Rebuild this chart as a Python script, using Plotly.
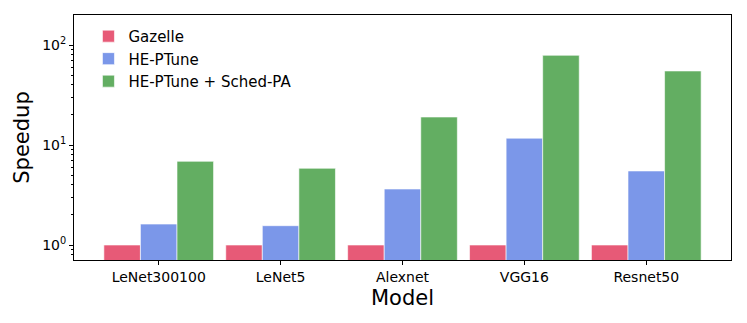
import plotly.graph_objects as go

# Данные
models = ["LeNet300100", "LeNet5", "Alexnet", "VGG16", "Resnet50"]
gazelle = [1.0, 1.0, 1.0, 1.0, 1.0]
he_ptune = [1.62, 1.56, 3.63, 11.7, 5.5]
he_ptune_sched = [6.87, 5.85, 19.05, 78.9, 55.0]

ytick_vals = [1, 10, 100]
ytick_text = ["10<sup>0</sup>", "10<sup>1</sup>", "10<sup>2</sup>"]
# малые деления логарифмической оси
yminor_vals = [m * d for d in (0.1, 1, 10, 100) for m in range(2, 10)]
y_range = [-0.15, 2.3]

series = [
    ("Gazelle", gazelle, "#E75A77"),
    ("HE-PTune", he_ptune, "#7B97E9"),
    ("HE-PTune + Sched-PA", he_ptune_sched, "#63AE62"),
]

fig = go.Figure()

for name, vals, color in series:
    fig.add_trace(go.Bar(
        x=list(range(len(models))),
        y=vals,
        name=name,
        marker=dict(color=color, line=dict(color="white", width=0.6)),
    ))

# невидимый след, чтобы вторая ось (малые деления) была отрисована
fig.add_trace(go.Scatter(
    x=list(range(len(models))), y=gazelle, yaxis="y2",
    mode="markers", marker=dict(opacity=0), showlegend=False, hoverinfo="skip",
))

font = "DejaVu Sans"

# страница имеет отступ 8px, поэтому фигура чуть меньше окна
fig.update_layout(
    width=739,
    height=315,
    barmode="group",
    bargap=0.1,
    bargroupgap=0,
    plot_bgcolor="white",
    paper_bgcolor="white",
    margin=dict(l=66, r=16, t=7, b=63),
    font=dict(family=font, color="black", size=14),
    legend=dict(
        x=0.022, y=0.98, xanchor="left", yanchor="top",
        bgcolor="rgba(0,0,0,0)", font=dict(size=15),
        tracegroupgap=0, itemwidth=30,
    ),
    yaxis2=dict(
        type="log", range=y_range, overlaying="y", anchor="x", side="left",
        tickvals=yminor_vals, ticktext=[""] * len(yminor_vals),
        ticks="outside", ticklen=2.5, tickwidth=0.8, tickcolor="black",
        showline=False, showgrid=False, zeroline=False, automargin=False,
    ),
)

fig.update_xaxes(
    automargin=False,
    tickvals=list(range(len(models))),
    ticktext=models,
    range=[-0.695, 4.695],
    showline=True, linecolor="black", linewidth=1, mirror=True,
    ticks="outside", ticklen=4, tickcolor="black",
    showgrid=False, zeroline=False,
    title=dict(text="Model", font=dict(size=21), standoff=6),
    tickfont=dict(size=14),
)

fig.update_layout(yaxis=dict(
    automargin=False,
    type="log",
    range=y_range,
    tickvals=ytick_vals,
    ticktext=ytick_text,
    showline=True, linecolor="black", linewidth=1, mirror=True,
    ticks="outside", ticklen=4, tickcolor="black",
    showgrid=False, zeroline=False,
    title=dict(text="Speedup", font=dict(size=21), standoff=6),
    tickfont=dict(size=14),
))

fig.write_html("out.html")
